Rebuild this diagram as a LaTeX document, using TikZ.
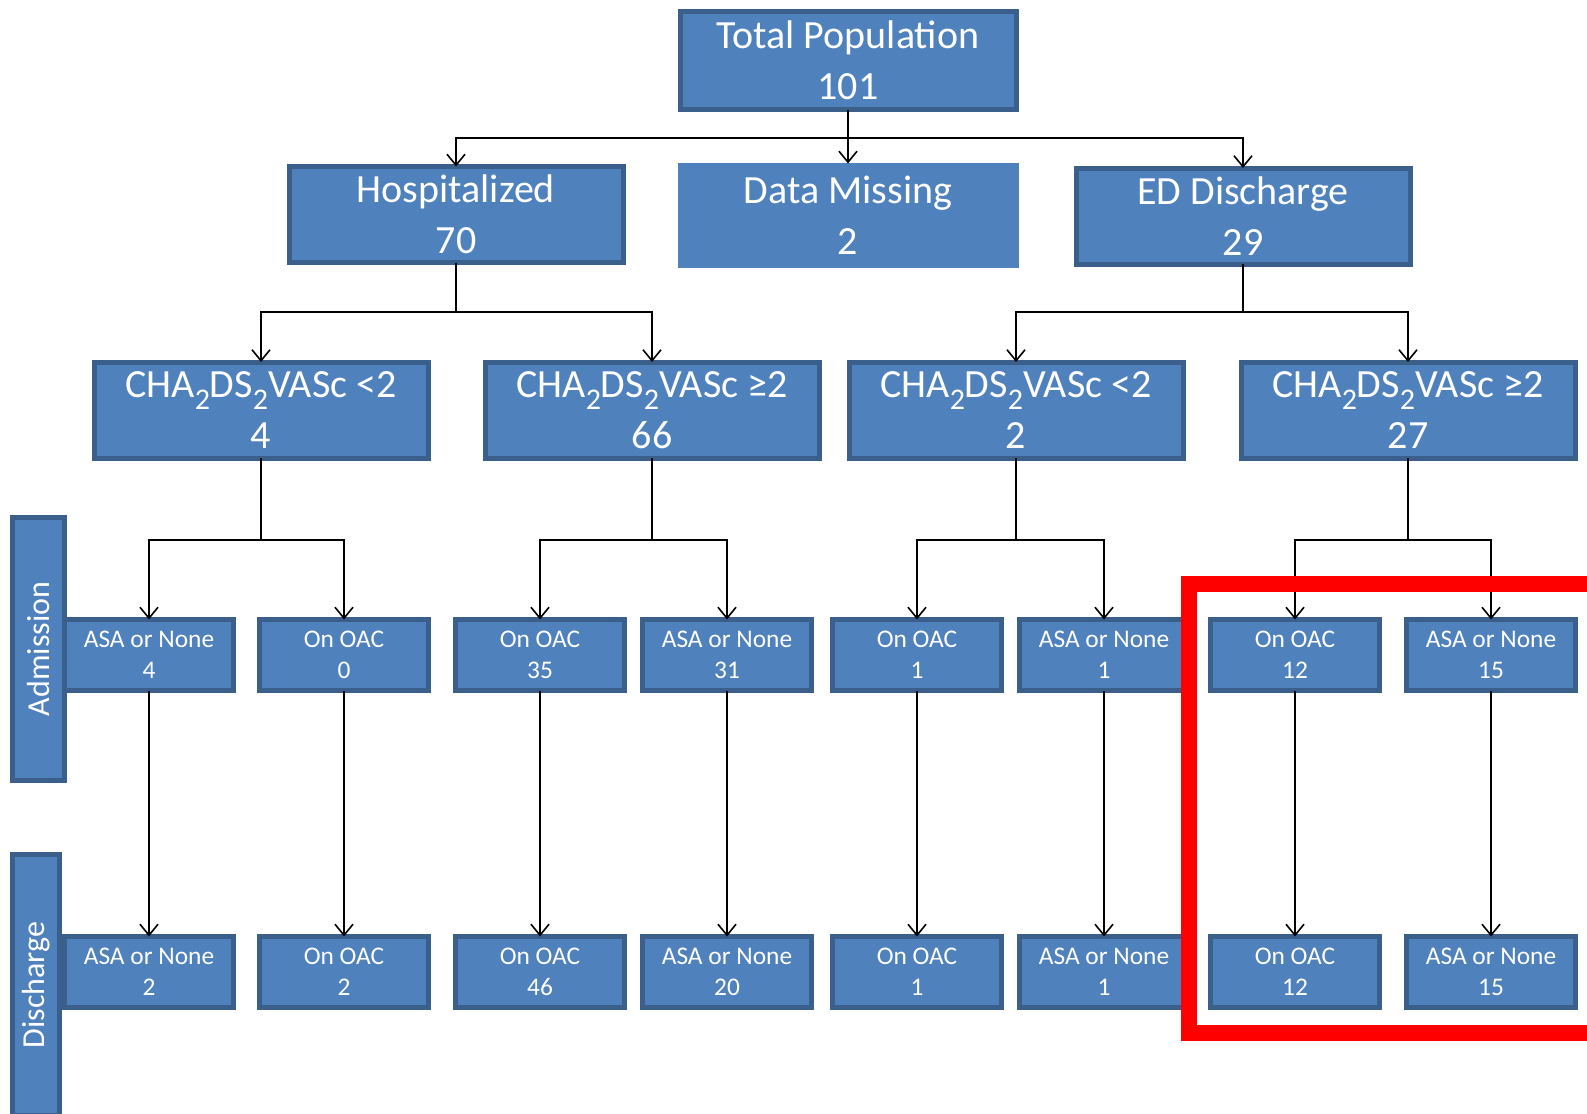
\documentclass[tikz,border=0pt]{standalone}
\usepackage{fontspec}
\setmainfont{Carlito}
\usetikzlibrary{arrows.meta}
\definecolor{boxfill}{HTML}{4F81BD}
\definecolor{boxline}{HTML}{3A5F8B}
\newcommand{\lowtwo}{\raisebox{-6pt}{\fontsize{15}{15}\selectfont 2}}
\begin{document}
\begin{tikzpicture}[x=0.5pt,y=-0.5pt,
  every node/.style={inner sep=0pt, outer sep=0pt},
  bigbox/.style={rectangle, fill=boxfill, draw=boxline, line width=2.5pt, text=white, align=center,
    minimum width=167pt, minimum height=48pt, font=\fontsize{20}{25.5}\selectfont},
  smallbox/.style={rectangle, fill=boxfill, draw=boxline, line width=2.5pt, text=white, align=center,
    minimum width=84.5pt, minimum height=35.5pt, font=\fontsize{12.7}{15.5}\selectfont},
  sidebox/.style={rectangle, fill=boxfill, draw=boxline, line width=2.5pt, text=white, rotate=90,
    font=\fontsize{16}{19}\selectfont},
  arr/.style={-{Straight Barb[length=5.5pt,width=9pt]}, line width=0.8pt},
  conn/.style={line width=0.8pt}]
\useasboundingbox (0,0) rectangle (1587,1114);

% side labels
\node[sidebox, minimum width=131.5pt, minimum height=26pt] (adm) at (38.5,649) {Admission};
\node[sidebox, minimum width=130.5pt, minimum height=23.5pt] (dis) at (36,985) {Discharge};

% top levels
\node[bigbox, minimum width=168pt, minimum height=49pt] (tot) at (848,60.5) {Total Population\\101};
\node[bigbox] (hosp) at (456,214.5) {Hospitalized\\70};
\node[bigbox, draw=boxfill, line width=0.5pt, minimum width=170pt, minimum height=52pt] (miss) at (848,215.5) {Data Missing\\2};
\node[bigbox] (ed) at (1243,216) {ED Discharge\\29};

\node[bigbox] (c1) at (261,410) {CHA\lowtwo DS\lowtwo VASc <2\\4};
\node[bigbox] (c2) at (652,410) {CHA\lowtwo DS\lowtwo VASc ≥2\\66};
\node[bigbox] (c3) at (1016,410) {CHA\lowtwo DS\lowtwo VASc <2\\2};
\node[bigbox] (c4) at (1408,410) {CHA\lowtwo DS\lowtwo VASc ≥2\\27};

% admission row
\node[smallbox] (a1) at (149,655) {ASA or None\\4};
\node[smallbox] (a2) at (344,655) {On OAC\\0};
\node[smallbox] (a3) at (540,655) {On OAC\\35};
\node[smallbox] (a4) at (727,655) {ASA or None\\31};
\node[smallbox] (a5) at (917,655) {On OAC\\1};
\node[smallbox] (a6) at (1104,655) {ASA or None\\1};
\node[smallbox] (a7) at (1295,655) {On OAC\\12};
\node[smallbox] (a8) at (1491,655) {ASA or None\\15};

% discharge row
\node[smallbox] (d1) at (149,972) {ASA or None\\2};
\node[smallbox] (d2) at (344,972) {On OAC\\2};
\node[smallbox] (d3) at (540,972) {On OAC\\46};
\node[smallbox] (d4) at (727,972) {ASA or None\\20};
\node[smallbox] (d5) at (917,972) {On OAC\\1};
\node[smallbox] (d6) at (1104,972) {ASA or None\\1};
\node[smallbox] (d7) at (1295,972) {On OAC\\12};
\node[smallbox] (d8) at (1491,972) {ASA or None\\15};

% connectors
\coordinate (j0) at (848,138);
\draw[conn] (tot.south) -- (j0);
\draw[arr] (j0) -| (hosp.north);
\draw[arr] (j0) -- (miss.north);
\draw[arr] (j0) -| (ed.north);

\coordinate (j1) at (456,312);
\draw[conn] (hosp.south) -- (j1);
\draw[arr] (j1) -| (c1.north);
\draw[arr] (j1) -| (c2.north);

\coordinate (j2) at (1243,312);
\draw[conn] (ed.south) -- (j2);
\draw[arr] (j2) -| (c3.north);
\draw[arr] (j2) -| (c4.north);

\coordinate (k1) at (261,540);
\coordinate (k2) at (652,540);
\coordinate (k3) at (1016,540);
\coordinate (k4) at (1408,540);
\draw[conn] (c1.south) -- (k1);
\draw[conn] (c2.south) -- (k2);
\draw[conn] (c3.south) -- (k3);
\draw[conn] (c4.south) -- (k4);
\draw[arr] (k1) -| (a1.north);
\draw[arr] (k1) -| (a2.north);
\draw[arr] (k2) -| (a3.north);
\draw[arr] (k2) -| (a4.north);
\draw[arr] (k3) -| (a5.north);
\draw[arr] (k3) -| (a6.north);
\draw[arr] (k4) -| (a7.north);
\draw[arr] (k4) -| (a8.north);

\foreach \i in {1,...,8} {
  \draw[arr] (a\i.south) -- (d\i.north);
}

% highlight frame
\draw[red, line width=8pt] (1189,584) rectangle (1600,1033);
\end{tikzpicture}
\end{document}
